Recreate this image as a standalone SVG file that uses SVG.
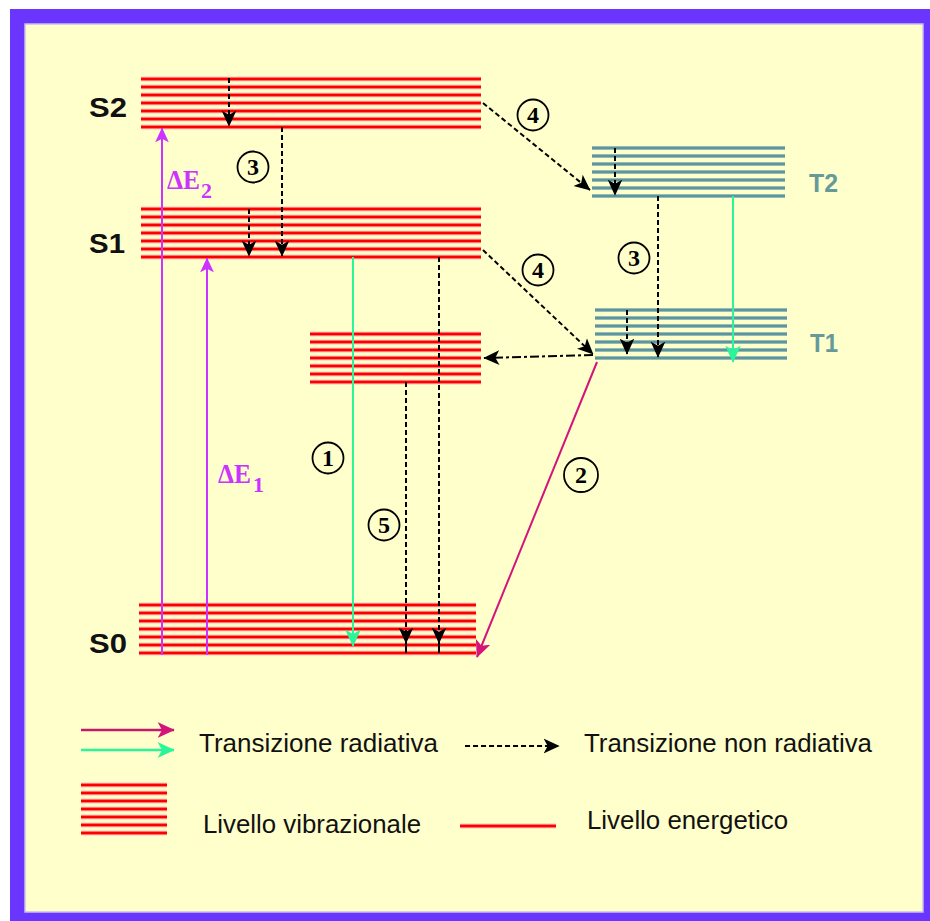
<svg xmlns="http://www.w3.org/2000/svg" width="930" height="921" viewBox="0 0 930 921">
<style>
.vr{fill:none;stroke:#ff9a9a;stroke-width:4.5}
.vrc{fill:none;stroke:#ff0000;stroke-width:2.4}
.vt{fill:none;stroke:#a8c8c8;stroke-width:4}
.vtc{fill:none;stroke:#5e9696;stroke-width:2.4}
.dash{fill:none;stroke:#000;stroke-width:2;stroke-dasharray:5 3}
.lbl{font-family:"Liberation Sans",Arial,sans-serif;font-weight:bold;font-size:28px;fill:#111}
.tl{font-family:"Liberation Sans",Arial,sans-serif;font-weight:bold;font-size:26px;fill:#669a9a}
.de{font-family:"Liberation Serif","Times New Roman",serif;font-weight:bold;font-size:27px;fill:#cc33ff}
.ds{font-family:"Liberation Serif","Times New Roman",serif;font-weight:bold;font-size:22px;fill:#cc33ff}
.num{font-family:"Liberation Serif","Times New Roman",serif;font-weight:bold;font-size:24px;fill:#000;text-anchor:middle}
.circ{fill:none;stroke:#000;stroke-width:1.8}
.leg{font-family:"Liberation Sans",Arial,sans-serif;font-size:25px;fill:#111}
</style>
<defs>
<marker id="ab" viewBox="0 0 12 12" refX="11.5" refY="6" markerWidth="16" markerHeight="16" markerUnits="userSpaceOnUse" orient="auto"><path d="M0,0.5 L12,6 L0,11.5 L3,6 Z" fill="#000"/></marker>
<marker id="ag" viewBox="0 0 12 12" refX="11.5" refY="6" markerWidth="17" markerHeight="17" markerUnits="userSpaceOnUse" orient="auto"><path d="M0,0.5 L12,6 L0,11.5 L3,6 Z" fill="#2af59a"/></marker>
<marker id="av" viewBox="0 0 12 12" refX="11.5" refY="6" markerWidth="15" markerHeight="15" markerUnits="userSpaceOnUse" orient="auto"><path d="M0,0.5 L12,6 L0,11.5 L3,6 Z" fill="#cc33ff"/></marker>
<marker id="ap" viewBox="0 0 12 12" refX="11.5" refY="6" markerWidth="17" markerHeight="17" markerUnits="userSpaceOnUse" orient="auto"><path d="M0,0.5 L12,6 L0,11.5 L3,6 Z" fill="#d4147a"/></marker>
</defs>
<rect x="0" y="0" width="930" height="921" fill="#fff"/>
<rect x="10" y="9" width="920" height="912" fill="#6a35ff"/>
<rect x="25" y="24" width="898" height="888" fill="#ffffcc" stroke="#c8c0e8" stroke-width="1.5"/>

<g id="S2">
<path class="vr" d="M141,79H481M141,87H481M141,95H481M141,103H481M141,111H481M141,119H481M141,127H481"/>
<path class="vrc" d="M141,79H481M141,87H481M141,95H481M141,103H481M141,111H481M141,119H481M141,127H481"/>
<text class="lbl" x="89" y="117" textLength="38" lengthAdjust="spacingAndGlyphs">S2</text>
</g>
<g id="S1">
<path class="vr" d="M141,209H481M141,217H481M141,225H481M141,233H481M141,241H481M141,249H481M141,257H481"/>
<path class="vrc" d="M141,209H481M141,217H481M141,225H481M141,233H481M141,241H481M141,249H481M141,257H481"/>
<text class="lbl" x="89" y="253" textLength="36" lengthAdjust="spacingAndGlyphs">S1</text>
</g>
<g id="Smid">
<path class="vr" d="M310,334H481M310,342H481M310,350H481M310,358H481M310,366H481M310,374H481M310,382H481"/>
<path class="vrc" d="M310,334H481M310,342H481M310,350H481M310,358H481M310,366H481M310,374H481M310,382H481"/>
</g>
<g id="S0">
<path class="vr" d="M139,605H476M139,613H476M139,621H476M139,629H476M139,637H476M139,645H476M139,653H476"/>
<path class="vrc" d="M139,605H476M139,613H476M139,621H476M139,629H476M139,637H476M139,645H476M139,653H476"/>
<text class="lbl" x="89" y="653" textLength="38" lengthAdjust="spacingAndGlyphs">S0</text>
</g>
<g id="T2">
<path class="vt" d="M592,148H785M592,156H785M592,164H785M592,172H785M592,180H785M592,188H785M592,196H785"/>
<path class="vtc" d="M592,148H785M592,156H785M592,164H785M592,172H785M592,180H785M592,188H785M592,196H785"/>
<text class="tl" x="809" y="192" textLength="29" lengthAdjust="spacingAndGlyphs">T2</text>
</g>
<g id="T1">
<path class="vt" d="M595,310H787M595,318H787M595,326H787M595,334H787M595,342H787M595,350H787M595,358H787"/>
<path class="vtc" d="M595,310H787M595,318H787M595,326H787M595,334H787M595,342H787M595,350H787M595,358H787"/>
<text class="tl" x="810" y="352" textLength="28" lengthAdjust="spacingAndGlyphs">T1</text>
</g>

<g id="labels">
<text class="de" x="167" y="189" textLength="33" lengthAdjust="spacingAndGlyphs">ΔE</text><text class="ds" x="201" y="198">2</text>
<text class="de" x="218" y="483" textLength="33" lengthAdjust="spacingAndGlyphs">ΔE</text><text class="ds" x="253" y="492">1</text>
<circle class="circ" cx="253" cy="167" r="15.5"/><text class="num" x="253" y="175">3</text>
<circle class="circ" cx="533" cy="115" r="15.5"/><text class="num" x="533" y="123">4</text>
<circle class="circ" cx="538" cy="270" r="15.5"/><text class="num" x="538" y="278">4</text>
<circle class="circ" cx="634" cy="258" r="15.5"/><text class="num" x="634" y="266">3</text>
<circle class="circ" cx="328" cy="458" r="15.5"/><text class="num" x="328" y="466">1</text>
<circle class="circ" cx="384" cy="525" r="15.5"/><text class="num" x="384" y="533">5</text>
<circle class="circ" cx="581" cy="475" r="17"/><text class="num" x="581" y="483">2</text>
</g>

<g id="connectors">
<line x1="162" y1="655" x2="162" y2="128" stroke="#cc33ff" stroke-width="2" marker-end="url(#av)"/>
<line x1="207" y1="655" x2="207" y2="258" stroke="#cc33ff" stroke-width="2" marker-end="url(#av)"/>
<line x1="353" y1="257" x2="353" y2="646" stroke="#2af59a" stroke-width="2" marker-end="url(#ag)"/>
<line x1="733" y1="196" x2="733" y2="362" stroke="#2af59a" stroke-width="2" marker-end="url(#ag)"/>
<line x1="597" y1="362" x2="477" y2="657" stroke="#d4147a" stroke-width="2" marker-end="url(#ap)"/>
<line class="dash" x1="229" y1="78" x2="229" y2="126" marker-end="url(#ab)"/>
<line class="dash" x1="282" y1="127" x2="282" y2="256" marker-end="url(#ab)"/>
<line class="dash" x1="249" y1="209" x2="249" y2="256" marker-end="url(#ab)"/>
<line class="dash" x1="439" y1="257" x2="439" y2="643" marker-end="url(#ab)"/>
<line x1="439" y1="640" x2="439" y2="653" stroke="#000" stroke-width="2"/>
<line class="dash" x1="406" y1="382" x2="406" y2="643" marker-end="url(#ab)"/>
<line x1="406" y1="640" x2="406" y2="653" stroke="#000" stroke-width="2"/>
<line class="dash" x1="615" y1="148" x2="615" y2="195" marker-end="url(#ab)"/>
<line class="dash" x1="658" y1="196" x2="658" y2="357" marker-end="url(#ab)"/>
<line class="dash" x1="627" y1="310" x2="627" y2="354" marker-end="url(#ab)"/>
<line class="dash" x1="483" y1="103" x2="590" y2="190" marker-end="url(#ab)"/>
<line class="dash" x1="483" y1="250" x2="593" y2="354" marker-end="url(#ab)"/>
<line x1="593" y1="355" x2="484" y2="358" fill="none" stroke="#000" stroke-width="2" stroke-dasharray="9 3 3 3" marker-end="url(#ab)"/>
</g>

<g id="legend">
<line x1="81" y1="730" x2="174" y2="730" stroke="#c41a6e" stroke-width="2.5" marker-end="url(#ap)"/>
<line x1="81" y1="750" x2="174" y2="750" stroke="#2af59a" stroke-width="2.5" marker-end="url(#ag)"/>
<text class="leg" x="199" y="752" textLength="239" lengthAdjust="spacingAndGlyphs">Transizione radiativa</text>
<line class="dash" x1="465" y1="746" x2="559" y2="746" marker-end="url(#ab)"/>
<text class="leg" x="584" y="752" textLength="288" lengthAdjust="spacingAndGlyphs">Transizione non radiativa</text>
<path class="vr" d="M81,785H167M81,793H167M81,801H167M81,809H167M81,817H167M81,825H167M81,833H167"/>
<path class="vrc" d="M81,785H167M81,793H167M81,801H167M81,809H167M81,817H167M81,825H167M81,833H167"/>
<text class="leg" x="203" y="833" textLength="218" lengthAdjust="spacingAndGlyphs">Livello vibrazionale</text>
<line x1="460" y1="826" x2="556" y2="826" stroke="#ff9a9a" stroke-width="4.5"/>
<line x1="460" y1="826" x2="556" y2="826" stroke="#ff0000" stroke-width="2.4"/>
<text class="leg" x="587" y="829" textLength="201" lengthAdjust="spacingAndGlyphs">Livello energetico</text>
</g>
</svg>
